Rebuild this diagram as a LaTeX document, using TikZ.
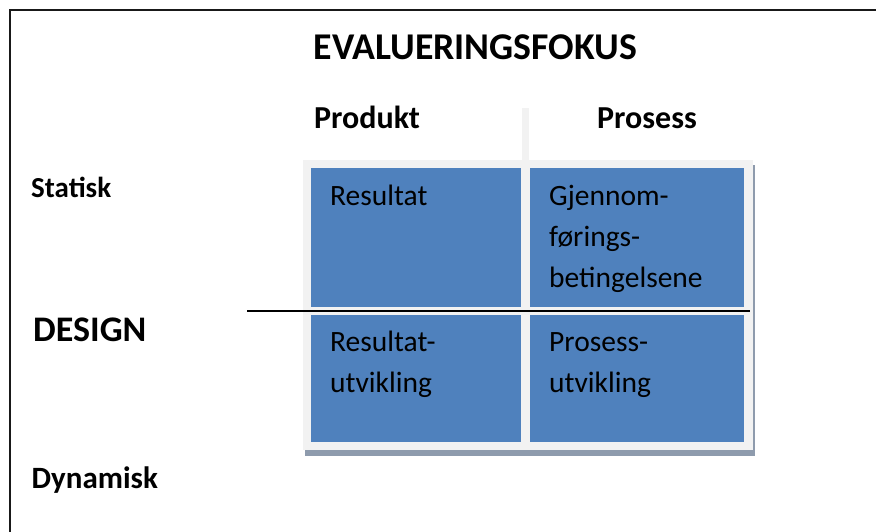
\documentclass[tikz,border=0pt]{standalone}
\usepackage{fontspec}
\setmainfont{Carlito}
\usepackage{tikz}
\usetikzlibrary{positioning}
\definecolor{cellblue}{HTML}{4F81BD}
\definecolor{gridgray}{HTML}{F2F2F2}
\definecolor{shadowgray}{HTML}{8E9BAD}
\tikzset{
	cell/.style={fill=cellblue, draw=none, anchor=north west, inner sep=0pt},
	celltext/.style={anchor=base west, align=left, inner sep=0pt, font=\fontsize{29.5}{41}\selectfont},
	headtext/.style={anchor=base west, inner sep=0pt, font=\bfseries\fontsize{32}{36}\selectfont},
	rowtext/.style={anchor=base west, inner sep=0pt, font=\bfseries\fontsize{#1}{#1}\selectfont},
}

\begin{document}
\begin{tikzpicture}[x=1pt, y=-1pt]
		\useasboundingbox (0,0) rectangle (876,532);
		% Frame
		\draw[line width=2pt, black!90] (10,532) -- (10,10) -- (876,10);

		% Title and column heads
		\node[rowtext=37.8] (fokus) at (313.5,59.5) {EVALUERINGSFOKUS};
		\node[headtext] (produkt) at (314,129) {Produkt};
		\node[headtext] (prosess) at (597,129) {Prosess};

		% Row heads
		\node[rowtext=29] (statisk) at (31,197.7) {Statisk};
		\node[rowtext=36] (design) at (33,341.7) {DESIGN};
		\node[rowtext=31] (dynamisk) at (31.5,488) {Dynamisk};

		% Grid backing with shadow
		\fill[shadowgray] (305,165) rectangle (755,456);
		\fill[gridgray] (303,160) rectangle (753,450);
		\fill[gridgray] (522,108) rectangle (529,160);

		% Cells
		\node[cell, minimum width=210pt, minimum height=139pt] (res) at (311,168) {};
		\node[cell, minimum width=214pt, minimum height=139pt] (gjen) at (530,168) {};
		\node[cell, minimum width=210pt, minimum height=127pt] (resut) at (311,315) {};
		\node[cell, minimum width=214pt, minimum height=127pt] (prosut) at (530,315) {};

		% Cell texts (base = last line)
		\node[celltext] (restxt) at (330,205) {Resultat};
		\node[celltext] (gjentxt) at (549,287) {Gjennom-\\førings-\\betingelsene};
		\node[celltext] (resuttxt) at (330,392.7) {Resultat-\\utvikling};
		\node[celltext] (prosuttxt) at (549,392.7) {Prosess-\\utvikling};

		% Divider
		\draw[line width=1.5pt] (247,311) -- (750,311);
	\end{tikzpicture}
\end{document}
